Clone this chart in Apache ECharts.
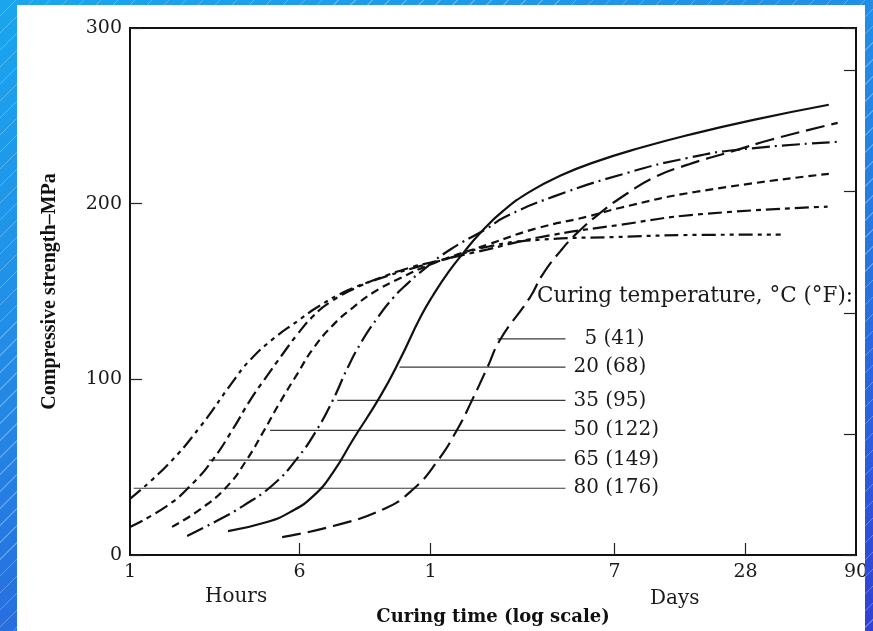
<!DOCTYPE html>
<html>
<head>
<meta charset="utf-8">
<script src="https://cdn.jsdelivr.net/npm/echarts@6.0.0/dist/echarts.min.js"></script>
<style>
  html, body { margin: 0; padding: 0; width: 873px; height: 631px; overflow: hidden; }
  .bluebg {
    background:
      repeating-linear-gradient(135deg, rgba(255,255,255,0) 0px, rgba(255,255,255,0) 11px, rgba(200,230,255,0.35) 11px, rgba(200,230,255,0.35) 12px),
      linear-gradient(160deg, #1aa6ee 0%, #2486e4 45%, #2a5fdc 80%, #3240d2 100%);
    background-attachment: fixed;
  }
  #paper { position: absolute; left: 17px; top: 5px; width: 848px; height: 626px; background: #ffffff; }
  #chart { position: absolute; left: 0; top: 0; width: 873px; height: 631px; }
  #rightstrip { position: absolute; left: 865px; top: 0; width: 8px; height: 631px; z-index: 5; }
</style>
</head>
<body class="bluebg">
<div id="paper"></div>
<div id="chart"></div>
<div id="rightstrip" class="bluebg"></div>
<script>
// ---- Data (curing time in hours, compressive strength in MPa) ----
const tickHours  = [1, 6, 24, 168, 672, 2160];
const tickLabels = ['1', '6', '1', '7', '28', '90'];
const yTicks = [0, 100, 200, 300];

const hours80 = [1, 1.48, 2.1, 2.98, 3.56, 4.54, 5.86, 7.24, 9.94, 13.7, 20.9, 27.5, 44, 77, 168, 400, 974];
const mpa80   = [32, 51, 73, 99, 111, 123, 133, 141, 150.5, 157, 164, 168, 175.5, 179.5, 181, 182.2, 182.4];

const hours65 = [1, 1.48, 1.95, 2.41, 2.98, 3.56, 4.26, 5.0, 5.86, 6.94, 8.31, 11.1, 14.6, 19.4, 24, 44, 77, 179, 400, 1600];
const mpa65   = [16, 28, 41, 54.5, 72, 88, 102, 114, 125.5, 136, 144, 152.5, 158.5, 163.6, 166.5, 174, 181, 188, 193.8, 198.3];

const hours50 = [1.56, 2.1, 2.79, 3.45, 4.09, 4.89, 5.86, 6.94, 8.58, 10.6, 13.1, 16.9, 24.7, 44, 74, 126, 179, 400, 1620];
const mpa50   = [16, 26, 39, 54.5, 70, 87, 103, 117.5, 131, 141, 149.4, 156.8, 166, 176.7, 186, 192.6, 197.7, 206.8, 217];

const hours35 = [1.83, 2.51, 3.31, 4.54, 5.86, 7.24, 8.58, 9.94, 11.4, 13.7, 16.2, 18.8, 22.3, 29.6, 43.8, 51.9, 88, 193, 364, 618, 1780];
const mpa35   = [10.8, 19.5, 28, 40, 55, 71.6, 88.6, 106, 120, 135, 146.5, 154.5, 162.5, 173.9, 186, 192, 204, 217.6, 226, 230.7, 235.2];

const hours20 = [2.82, 4.26, 5.44, 6.94, 8.58, 10.6, 14.1, 17.4, 21.5, 24.7, 29, 34, 40.7, 51.9, 69, 95, 135, 221, 364, 731, 1620];
const mpa20   = [13.6, 18.8, 24.4, 33.5, 47.2, 65.9, 90.3, 111.4, 135, 148, 161, 172, 183.5, 196, 207, 216, 223.5, 231.8, 239, 247.7, 256.3];

const hours5 = [5.0, 8.58, 14.6, 19.8, 25.8, 31.9, 37.4, 43.8, 50.2, 69, 78.4, 94.8, 113.5, 145, 193, 254, 364, 574, 877, 1780];
const mpa5   = [10.2, 16.5, 26.1, 37, 53.4, 71.6, 88.6, 106.8, 122.7, 147, 159.5, 173, 183.5, 194.9, 206, 214.8, 222.2, 229.5, 236.4, 246];

// leader lines for the temperature key
const keyLabels    = ['5 (41)', '20 (68)', '35 (95)', '50 (122)', '65 (149)', '80 (176)'];
const keyLevel     = [123, 107, 88, 71, 54, 38];
const keyStartHour = [48.7, 17.3, 8.95, 4.4, 2.3, 1.04];
const keyEndHour   = [100, 100, 100, 100, 100, 100];

const ksiPerMpa = 1 / 6.895;

// ---- styles ----
const serif = '"DejaVu Serif", "Liberation Serif", serif';
const curves = [
  { h: hours80, v: mpa80, dash: [14, 5, 4, 5, 4, 5] },
  { h: hours65, v: mpa65, dash: [14, 5, 5, 5] },
  { h: hours50, v: mpa50, dash: [8, 5] },
  { h: hours35, v: mpa35, dash: [18, 5, 2, 5] },
  { h: hours20, v: mpa20, dash: 'solid' },
  { h: hours5,  v: mpa5,  dash: [19, 7] }
];
const keyGap = [19, 8, 8, 8, 8, 8];

function zip(a, b) { return a.map((x, i) => [x, b[i]]); }

const series = [];
keyLabels.forEach((lab, i) => {
  series.push({
    type: 'line',
    data: [[keyStartHour[i], keyLevel[i]], [keyEndHour[i], keyLevel[i]]],
    symbol: 'none',
    silent: true,
    lineStyle: { color: '#3a3a3a', width: 1.2 },
    endLabel: {
      show: true, formatter: lab, distance: keyGap[i],
      fontFamily: serif, fontSize: 20, color: '#1a1a1a'
    },
    z: 2
  });
});
curves.forEach(c => {
  series.push({
    type: 'line',
    data: zip(c.h, c.v),
    symbol: 'none',
    smooth: 0.5,
    lineStyle: { color: '#111', width: 2.2, type: c.dash },
    z: 3
  });
});

function hourLabel(v) {
  for (let i = 0; i < tickHours.length; i++) {
    if (Math.abs(Math.log(v / tickHours[i])) < 0.02) return tickLabels[i];
  }
  return '';
}

const chart = echarts.init(document.getElementById('chart'), null, { renderer: 'canvas' });
chart.setOption({
  animation: false,
  backgroundColor: 'transparent',
  grid: { left: 130, right: 17, top: 28, bottom: 75, show: true, borderColor: '#111', borderWidth: 2 },
  xAxis: {
    type: 'log', logBase: 10, min: tickHours[0], max: tickHours[tickHours.length - 1],
    name: 'Curing time (log scale)', nameLocation: 'middle', nameGap: 53,
    nameTextStyle: { fontFamily: serif, fontWeight: 'bold', fontSize: 18, color: '#111' },
    axisLine: { show: true, lineStyle: { color: '#111', width: 2 } },
    axisTick: { show: true, inside: true, length: 12, lineStyle: { color: '#222', width: 1.2 },
                customValues: tickHours.slice(1, -1) },
    minorTick: { show: false },
    axisLabel: { show: true, customValues: tickHours, formatter: hourLabel, margin: 8,
                 fontFamily: serif, fontSize: 19, color: '#1a1a1a' },
    splitLine: { show: false }
  },
  yAxis: [{
    type: 'value', min: yTicks[0], max: yTicks[yTicks.length - 1], interval: 100,
    name: 'Compressive strength\u2013MPa', nameLocation: 'middle', nameGap: 70, nameRotate: 90,
    nameTextStyle: { fontFamily: '"Liberation Serif", serif', fontWeight: 'bold', fontSize: 20, color: '#111' },
    axisLine: { show: true, lineStyle: { color: '#111', width: 2 } },
    axisTick: { show: true, inside: true, length: 12, lineStyle: { color: '#222', width: 1.2 } },
    axisLabel: { fontFamily: serif, fontSize: 19, color: '#1a1a1a', margin: 8 },
    splitLine: { show: false }
  }, {
    type: 'value', position: 'right', min: 0, max: yTicks[yTicks.length - 1] * ksiPerMpa, interval: 10,
    axisLine: { show: true, lineStyle: { color: '#111', width: 2 } },
    axisTick: { show: true, inside: true, length: 12, lineStyle: { color: '#222', width: 1.2 } },
    axisLabel: { show: false },
    splitLine: { show: false }
  }],
  graphic: [
    { type: 'text', left: 537, top: 285, silent: true,
      style: { text: 'Curing temperature, \u00B0C (\u00B0F):', font: '21.5px ' + serif, fill: '#1a1a1a' } },
    { type: 'text', left: 205, top: 587, silent: true,
      style: { text: 'Hours', font: '20px ' + serif, fill: '#1a1a1a' } },
    { type: 'text', left: 650, top: 589, silent: true,
      style: { text: 'Days', font: '20px ' + serif, fill: '#1a1a1a' } }
  ],
  series: series
});
</script>
</body>
</html>
